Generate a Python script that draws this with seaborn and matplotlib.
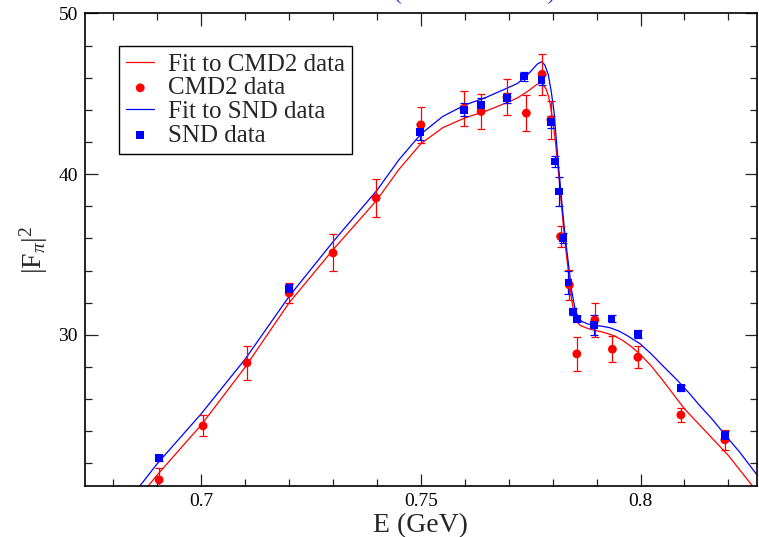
import matplotlib
matplotlib.use('Agg')
import matplotlib.pyplot as plt
import seaborn as sns
import pandas as pd
from matplotlib.ticker import MultipleLocator

# ---- fit curves ----
fit_cmd2_E = [0.6879, 0.69, 0.70, 0.71, 0.72, 0.73, 0.74, 0.745, 0.75, 0.755, 0.76, 0.765,
              0.77, 0.772, 0.774, 0.7765, 0.7775, 0.7785, 0.779, 0.7794, 0.78, 0.7806,
              0.7815, 0.7824, 0.7830, 0.7836, 0.7843, 0.7849, 0.7855, 0.7862, 0.788,
              0.7893, 0.791, 0.7923, 0.794, 0.796, 0.798, 0.7999, 0.8025, 0.805, 0.8075,
              0.81, 0.815, 0.82, 0.8255]
fit_cmd2_F2 = [20.6, 21.3, 24.4, 28.0, 32.0, 35.3, 38.4, 40.3, 41.9, 42.9, 43.5, 43.95,
               44.5, 44.75, 45.1, 45.6, 45.7, 45.3, 44.9, 44.4, 43.4, 42.1,
               39.6, 36.9, 35.3, 33.9, 32.2, 31.3, 30.85, 30.6, 30.4,
               30.3, 30.2, 30.1, 29.95, 29.65, 29.25, 28.8, 28.05, 27.2, 26.3,
               25.4, 23.95, 22.5, 20.6]

fit_snd_E = [0.686, 0.69, 0.70, 0.71, 0.72, 0.73, 0.74, 0.745, 0.75, 0.755, 0.76, 0.765,
             0.77, 0.772, 0.774, 0.7755, 0.7765, 0.7775, 0.7782, 0.779, 0.7797, 0.7803,
             0.7813, 0.7820, 0.7828, 0.7836, 0.7843, 0.7851, 0.7858, 0.7866, 0.788,
             0.7893, 0.791, 0.793, 0.795, 0.797, 0.7999, 0.8025, 0.805, 0.8083, 0.811,
             0.8135, 0.8165, 0.8192, 0.8226, 0.8265]
fit_snd_F2 = [20.6, 22.0, 25.1, 28.5, 32.4, 35.8, 39.0, 40.9, 42.5, 43.6, 44.3, 44.8,
              45.4, 45.65, 46.1, 46.55, 46.85, 47.0, 46.8, 46.2, 45.1, 43.9,
              40.6, 38.5, 36.2, 34.4, 32.8, 31.6, 31.1, 30.85, 30.68,
              30.6, 30.55, 30.45, 30.25, 29.95, 29.45, 28.8, 28.1, 27.2, 26.4,
              25.6, 24.7, 23.8, 22.7, 21.3]

# ---- CMD2 data ----
cmd2_E = [0.6904, 0.7004, 0.7104, 0.72, 0.73, 0.7398, 0.75, 0.7598, 0.7637, 0.7696, 0.774,
          0.7776, 0.7796, 0.7818, 0.7838, 0.7855, 0.7896, 0.7936, 0.7994, 0.8092, 0.8192]
cmd2_F2 = [20.98, 24.34, 28.26, 32.61, 35.10, 38.52, 43.07, 44.1, 43.9, 44.8, 43.80,
           46.22, 43.38, 36.12, 33.11, 28.82, 30.93, 29.11, 28.61, 25.02, 23.47]
cmd2_err = [0.75, 0.65, 1.05, 0.6, 1.15, 1.2, 1.1, 1.1, 1.1, 1.12, 1.14,
            1.28, 1.2, 0.64, 0.93, 1.04, 1.04, 0.81, 0.67, 0.45, 0.6]

# ---- SND data ----
snd_E = [0.6904, 0.72, 0.7498, 0.7598, 0.7637, 0.7696, 0.7735, 0.7775, 0.7796, 0.7805,
         0.7815, 0.7824, 0.7836, 0.7846, 0.7855, 0.7894, 0.7934, 0.7994, 0.8092, 0.8192]
snd_F2 = [22.35, 32.86, 42.63, 44.0, 44.31, 44.75, 46.07, 45.87, 43.24, 40.78,
          38.92, 36.02, 33.25, 31.45, 31.0, 30.6, 31.01, 30.04, 26.70, 23.71]
snd_err = [0.2, 0.3, 0.5, 0.4, 0.4, 0.3, 0.3, 0.3, 0.36, 0.35,
           0.93, 0.3, 0.7, 0.2, 0.2, 0.62, 0.2, 0.25, 0.2, 0.3]

x_ticks = [0.7, 0.75, 0.8]
x_tick_labels = ['0.7', '0.75', '0.8']
y_ticks = [30, 40, 50]
y_tick_labels = ['30', '40', '50']

RED = '#ff0000'
BLUE = '#0000ff'

sns.set_theme(style='ticks')
plt.rcParams['font.family'] = ['Liberation Serif', 'DejaVu Serif']
plt.rcParams['mathtext.fontset'] = 'custom'
plt.rcParams['mathtext.rm'] = 'Liberation Serif'
plt.rcParams['mathtext.it'] = 'Liberation Serif:italic'

fig = plt.figure(figsize=(7.59, 5.37), dpi=100)
ax = fig.add_axes([0.1116, 0.0950, 0.8858, 0.8799])

df_fc = pd.DataFrame({'E': fit_cmd2_E, 'F2': fit_cmd2_F2})
df_fs = pd.DataFrame({'E': fit_snd_E, 'F2': fit_snd_F2})
df_c = pd.DataFrame({'E': cmd2_E, 'F2': cmd2_F2, 'err': cmd2_err})
df_s = pd.DataFrame({'E': snd_E, 'F2': snd_F2, 'err': snd_err})

sns.lineplot(data=df_fc, x='E', y='F2', color=RED, lw=0.9, ax=ax,
             label='Fit to CMD2 data', sort=False, estimator=None)
sns.lineplot(data=df_fs, x='E', y='F2', color=BLUE, lw=0.9, ax=ax,
             label='Fit to SND data', sort=False, estimator=None)

ax.errorbar(df_c['E'], df_c['F2'], yerr=df_c['err'], fmt='none', ecolor=RED,
            elinewidth=0.9, capsize=2.9, capthick=0.9, zorder=3)
ax.errorbar(df_s['E'], df_s['F2'], yerr=df_s['err'], fmt='none', ecolor=BLUE,
            elinewidth=0.9, capsize=2.9, capthick=0.9, zorder=3)

sns.scatterplot(data=df_c, x='E', y='F2', marker='o', s=40, color=RED,
                edgecolor='none', ax=ax, label='CMD2 data', zorder=4)
sns.scatterplot(data=df_s, x='E', y='F2', marker='s', s=30, color=BLUE,
                edgecolor='none', ax=ax, label='SND data', zorder=5)

ax.set_xlim(0.67345, 0.82653)
ax.set_ylim(20.6, 50)
ax.set_xticks(x_ticks)
ax.set_xticklabels(x_tick_labels)
ax.set_yticks(y_ticks)
ax.set_yticklabels(y_tick_labels)
ax.xaxis.set_minor_locator(MultipleLocator(0.01))
ax.yaxis.set_minor_locator(MultipleLocator(2))

ax.tick_params(which='both', direction='in', top=True, right=True, colors='#222222',
               labelcolor='black')
ax.tick_params(which='major', length=9, width=0.9, labelsize=14, pad=5)
ax.tick_params(which='minor', length=5, width=0.9)
for sp in ax.spines.values():
    sp.set_visible(True)
    sp.set_linewidth(1.2)
    sp.set_color('black')

ax.set_xlabel('E (GeV)', fontsize=20, labelpad=2)
ax.set_ylabel(r'$|\mathrm{F}_{\pi}|^{2}$', fontsize=20, labelpad=6)

handles, labels = ax.get_legend_handles_labels()
order = ['Fit to CMD2 data', 'CMD2 data', 'Fit to SND data', 'SND data']
hmap = dict(zip(labels, handles))
leg = ax.legend([hmap[k] for k in order], order, loc='upper left',
                bbox_to_anchor=(0.051, 0.932), borderaxespad=0, fontsize=18,
                frameon=True, fancybox=False, shadow=False, handlelength=1.1,
                handletextpad=0.55, labelspacing=0.05, borderpad=0.3,
                markerscale=1.0)
leg.get_frame().set_edgecolor('black')
leg.get_frame().set_linewidth(1.0)
leg.get_frame().set_alpha(1)

# title of the original figure, mostly above the visible area
fig.text(0.625, 1.0019, '(CMD2 vs SND)', color='#3333cc', fontsize=17,
         ha='center', va='baseline')

fig.savefig('out.png', dpi=100)
